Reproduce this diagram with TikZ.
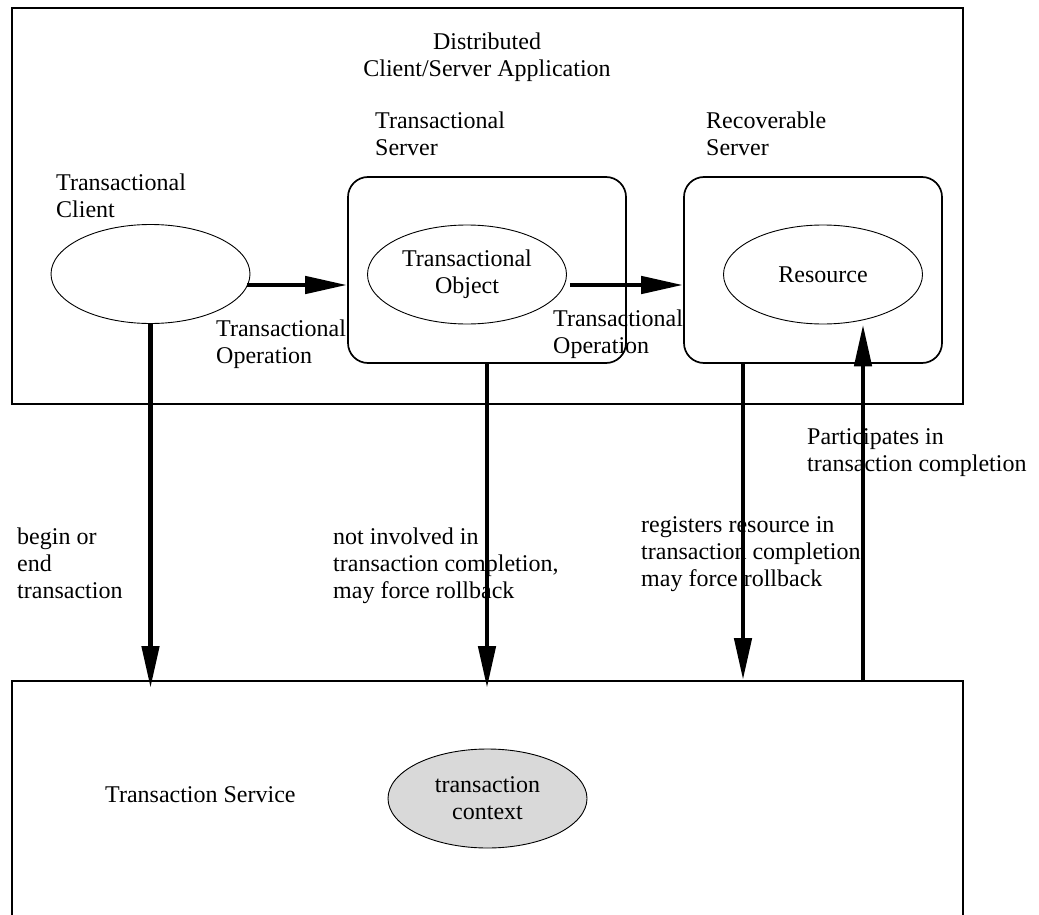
\documentclass[tikz,border=0pt]{standalone}
\usepackage{fontspec}
\setmainfont{Liberation Serif}
\usetikzlibrary{arrows.meta,shapes.geometric}
\definecolor{ctxgray}{HTML}{D9D9D9}
\begin{document}
\begin{tikzpicture}[x=1pt,y=-1pt,
  txt/.style={font=\fontsize{24}{27}\selectfont, inner sep=0pt},
  lbl/.style={txt, align=left, anchor=base west},
  region/.style={draw, line width=1.7pt, inner sep=0pt},
  srvbox/.style={draw, line width=1.7pt, rounded corners=20pt, inner sep=0pt,
    minimum height=186pt},
  oval/.style={draw, ellipse, line width=0.9pt, inner sep=0pt,
    minimum width=199pt, minimum height=99pt, txt, align=center},
  flow/.style={line width=4.7pt, -{Triangle[length=42pt,width=17pt]}}
]
\useasboundingbox (0,0) rectangle (1039,915);
\clip (0,0) rectangle (1039,915);

% application region and service region (the latter runs off the bottom)
\node[region, anchor=north west, minimum width=951pt, minimum height=396pt] (app) at (11,7) {};
\node[region, anchor=north west, minimum width=951pt, minimum height=300pt] (svc) at (11,680) {};

% servers
\node[srvbox, minimum width=278pt] (srv) at (487,270) {};
\node[srvbox, minimum width=258pt] (rec) at (813,270) {};

% ellipses
\node[oval] (client) at (150.5,274) {};
\node[oval] (obj) at (467,274.5) {Transactional\\Object};
\node[oval] (res) at (823,274.5) {Resource};
\node[oval, fill=ctxgray] (ctx) at (487.5,798.5) {transaction\\context};

% labels (base anchor sits on the last line)
\node[txt, align=center, anchor=base] (title) at (487,77) {Distributed\\Client/Server Application};
\node[lbl] (lsrv) at (375,156) {Transactional\\Server};
\node[lbl] (lrec) at (706,156) {Recoverable\\Server};
\node[lbl] (lcli) at (56,217) {Transactional\\Client};
\node[lbl] (lop1) at (216,363) {Transactional\\Operation};
\node[lbl] (lop2) at (553,353) {Transactional\\Operation};
\node[lbl] (lbeg) at (17,598) {begin or\\end\\transaction};
\node[lbl] (lnot) at (333,598) {not involved in\\transaction completion,\\may force rollback};
\node[lbl] (lreg) at (641,586) {registers resource in\\transaction completion,\\may force rollback};
\node[lbl] (lpar) at (807,471) {Participates in\\transaction completion};
\node[lbl] (lsvc) at (105,802) {Transaction Service};

% connector end points
\coordinate (op1) at ([yshift=-11pt,xshift=-3pt]client.east);
\coordinate (op2) at ([yshift=-10.5pt,xshift=3pt]obj.east);
\coordinate (regtop) at ([xshift=-70pt]rec.south);
\coordinate (partbot) at (863,682);

% operations across the application
\draw[flow] (op1) -- (op1 -| srv.west);
\draw[flow] (op2) -- (op2 -| rec.west);

% calls into the transaction service
\draw[flow] (client.south) -- ([yshift=-8pt]client.south |- svc.north);
\draw[flow] (srv.south) -- ([yshift=-8pt]srv.south |- svc.north);
\draw[flow] (regtop) -- (regtop |- svc.north);
\draw[flow] (partbot) -- (partbot |- res.south);
\end{tikzpicture}
\end{document}
